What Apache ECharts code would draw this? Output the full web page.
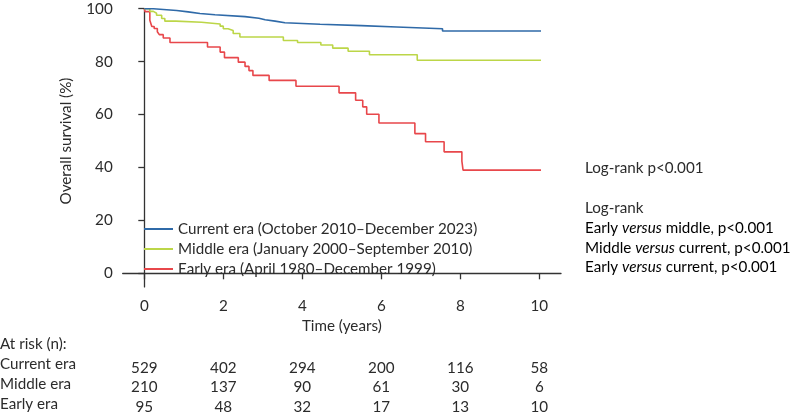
<!DOCTYPE html>
<html>
<head>
<meta charset="utf-8">
<script src="https://cdn.jsdelivr.net/npm/echarts@6/dist/echarts.min.js"></script>
<style>
html,body{margin:0;padding:0;background:#fff;}
#chart{width:795px;height:417px;}
</style>
</head>
<body>
<div id="chart"></div>
<script>
// ---- data ----
const currentTime = [0, 0.23, 0.82, 1.11, 1.41, 1.79, 2.55, 2.90, 3.06, 3.31, 3.56, 4.45, 5.50, 6.39, 7.55, 10.55];
const currentSurv = [100, 99.3, 98.8, 98.2, 97.7, 97.0, 96.4, 95.8, 95.3, 94.7, 94.1, 93.6, 93.1, 92.4, 91.6, 91.6];

const middleTime = [0, 0.14, 0.23, 0.31, 0.44, 0.52, 0.80, 1.45, 1.92, 2.00, 2.12, 2.25, 2.42, 3.52, 3.88, 4.47, 4.77, 5.16, 5.70, 6.91, 10.55];
const middleSurv = [100, 99.0, 98.3, 97.5, 96.3, 95.3, 94.9, 94.2, 93.4, 92.4, 91.8, 90.6, 89.3, 88.0, 87.2, 86.3, 85.1, 83.9, 82.6, 80.5, 80.5];

const earlyTime = [0, 0.02, 0.14, 0.19, 0.25, 0.33, 0.38, 0.48, 0.65, 1.60, 1.92, 2.03, 2.38, 2.55, 2.65, 2.75, 3.16, 3.84, 4.93, 5.35, 5.53, 5.63, 5.94, 6.85, 7.12, 7.59, 8.04, 8.07, 10.55];
const earlySurv = [100, 98.9, 95.6, 93.3, 92.5, 91.3, 90.2, 88.9, 87.2, 85.5, 83.6, 81.5, 79.8, 78.2, 76.6, 74.8, 72.9, 70.7, 68.2, 65.4, 62.9, 60.1, 56.8, 52.8, 49.7, 45.9, 42.4, 39.0, 39.0];

const seriesNames = ['Current era (October 2010\u2013December 2023)', 'Middle era (January 2000\u2013September 2010)', 'Early era (April 1980\u2013December 1999)'];
const riskTimes = [0, 2, 4, 6, 8, 10];
const riskCurrent = [529, 402, 294, 200, 116, 58];
const riskMiddle = [210, 137, 90, 61, 30, 6];
const riskEarly = [95, 48, 32, 17, 13, 10];
const riskRowLabels = ['Current era', 'Middle era', 'Early era'];

// ---- layout ----
const FONT = 'Lato';
const FS = 15.2;
const TXT = '#2b2b2b';
const AX = '#333';
const plotL = 144.3, plotR = 539.3, plotT = 8.7, plotB = 273.3;
const axL = 122.7, axR = 561, axB = 286.9;
const W = 795, H = 417;

const zip = (a, b) => a.map((v, i) => [v, b[i]]);

const riskAxis = (arr, off) => ({
  gridIndex: 1, type: 'value', min: 0, max: 10, interval: 2, position: 'bottom', offset: off,
  axisLine: {show: false}, axisTick: {show: false}, splitLine: {show: false},
  axisLabel: {margin: 0, fontFamily: FONT, fontSize: FS, color: TXT,
    formatter: v => { const i = riskTimes.indexOf(v); return i >= 0 ? String(arr[i]) : ''; }}
});

const txt = (s, x, y) => ({type: 'text', left: x, top: y, style: {text: s, font: FS + 'px ' + FONT, fill: TXT}});
const rich = {n: {fontFamily: FONT, fontSize: FS, color: TXT}, i: {fontFamily: FONT, fontSize: FS, fontStyle: 'italic', color: TXT}};
const rtxt = (s, x, y) => ({type: 'text', left: x, top: y, style: {text: s, rich: rich}});

const option = {
  animation: false,
  backgroundColor: '#fff',
  grid: [
    {left: axL, top: plotT, width: axR - axL, height: axB - plotT},
    {left: plotL, top: plotT, width: plotR - plotL, height: plotB - plotT}
  ],
  xAxis: [
    {gridIndex: 0, type: 'value', min: -0.547, max: 10.55,
      axisLine: {show: true, lineStyle: {color: AX, width: 1.3}}, axisTick: {show: false},
      axisLabel: {show: false}, splitLine: {show: false}},
    {gridIndex: 1, type: 'value', min: 0, max: 10, interval: 2, position: 'bottom', offset: axB - plotB,
      axisLine: {show: false}, axisTick: {show: true, length: 6, lineStyle: {color: AX, width: 1.3}},
      axisLabel: {margin: 12, fontFamily: FONT, fontSize: FS, color: TXT},
      splitLine: {show: false},
      name: 'Time (years)', nameLocation: 'middle', nameGap: 31,
      nameTextStyle: {fontFamily: FONT, fontSize: FS, color: TXT}},
    riskAxis(riskCurrent, 87),
    riskAxis(riskMiddle, 106.5),
    riskAxis(riskEarly, 126)
  ],
  yAxis: [
    {gridIndex: 0, type: 'value', min: -5.3, max: 100,
      axisLine: {show: true, lineStyle: {color: AX, width: 1.3}}, axisTick: {show: false},
      axisLabel: {show: false}, splitLine: {show: false}},
    {gridIndex: 1, type: 'value', min: 0, max: 100, interval: 20, offset: plotL - axL,
      axisLine: {show: false}, axisTick: {show: true, length: 6, lineStyle: {color: AX, width: 1.3}},
      axisLabel: {margin: 10, fontFamily: FONT, fontSize: FS, color: TXT},
      splitLine: {show: false},
      name: 'Overall survival (%)', nameLocation: 'middle', nameGap: 49,
      nameTextStyle: {fontFamily: FONT, fontSize: FS, color: TXT}}
  ],
  legend: {
    orient: 'vertical', left: 144, top: 219, itemWidth: 29, itemHeight: 2, itemGap: 0,
    itemTextGap: 17, icon: 'rect', z: 10, padding: 0,
    textStyle: {fontFamily: FONT, fontSize: FS, color: TXT, lineHeight: 20},
    data: seriesNames
  },
  series: [
    {name: seriesNames[2], type: 'line', step: 'end', xAxisIndex: 1, yAxisIndex: 1, clip: false,
      symbol: 'none', data: zip(earlyTime, earlySurv), color: '#e8474b', lineStyle: {width: 1.6, color: '#e8474b'}},
    {name: seriesNames[1], type: 'line', step: 'end', xAxisIndex: 1, yAxisIndex: 1, clip: false,
      symbol: 'none', data: zip(middleTime, middleSurv), color: '#bcd648', lineStyle: {width: 1.6, color: '#bcd648'}},
    {name: seriesNames[0], type: 'line', step: 'end', xAxisIndex: 1, yAxisIndex: 1, clip: false,
      symbol: 'none', data: zip(currentTime, currentSurv), color: '#2f6aa8', lineStyle: {width: 1.6, color: '#2f6aa8'}}
  ],
  graphic: [
    txt('At risk (n):', 0, 337),
    txt(riskRowLabels[0], 0, 357),
    txt(riskRowLabels[1], 0, 377),
    txt(riskRowLabels[2], 0, 397),
    txt('Log-rank p<0.001', 585, 161),
    txt('Log-rank', 585, 201),
    rtxt('{n|Early }{i|versus}{n| middle, p<0.001}', 585, 221),
    rtxt('{n|Middle }{i|versus}{n| current, p<0.001}', 585, 241),
    rtxt('{n|Early }{i|versus}{n| current, p<0.001}', 585, 260)
  ]
};

const chart = echarts.init(document.getElementById('chart'), null, {renderer: 'canvas', width: W, height: H});
chart.setOption(option);
</script>
</body>
</html>
